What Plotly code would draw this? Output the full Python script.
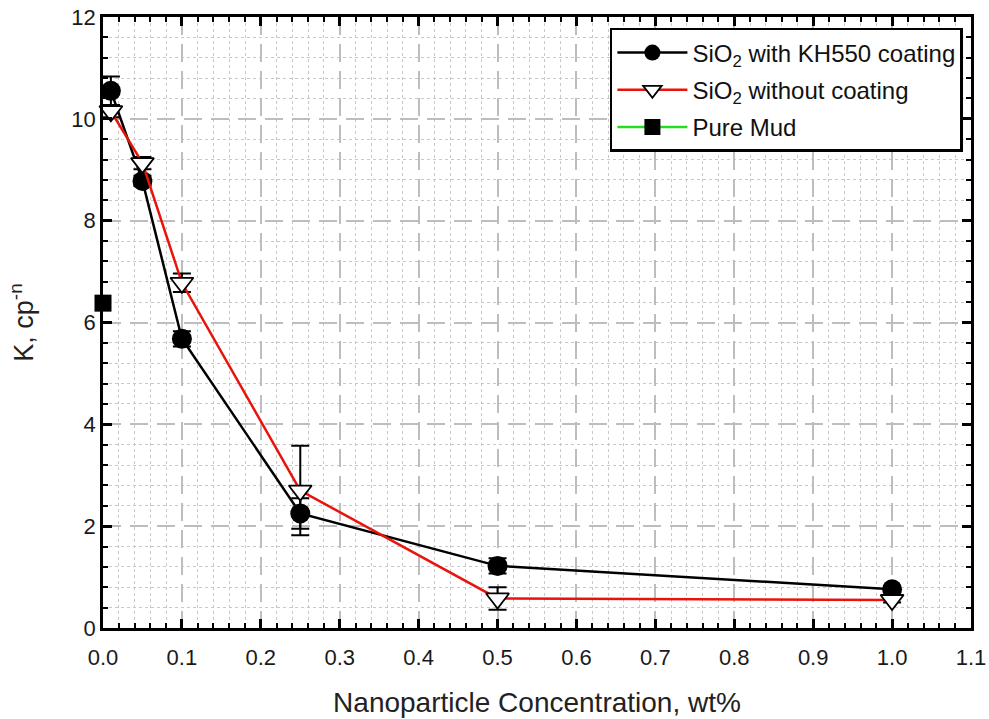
import plotly.graph_objects as go

x_conc = [0.01, 0.05, 0.1, 0.25, 0.5, 1.0]
k_coated = [10.55, 8.78, 5.68, 2.25, 1.22, 0.76]
err_coated = [0.28, 0.1, 0.15, 0.3, 0.15, 0.05]
k_uncoated = [10.15, 9.13, 6.78, 2.7, 0.58, 0.55]
err_uncoated = [0.12, 0.12, 0.18, 0.88, 0.22, 0.05]
x_pure = [0.0]
k_pure = [6.38]

FONT = "Liberation Sans, Arial, sans-serif"

fig = go.Figure()
fig.add_trace(go.Scatter(
    x=x_conc, y=k_coated, mode="lines+markers",
    name="SiO<sub>2</sub> with KH550 coating", legendgroup="a",
    line=dict(color="black", width=2.5),
    marker=dict(symbol="circle", size=20, color="black"),
    error_y=dict(type="data", array=err_coated, color="black", thickness=2, width=9),
    cliponaxis=False,
))
fig.add_trace(go.Scatter(
    x=x_conc, y=k_uncoated, mode="lines+markers",
    name="SiO<sub>2</sub> without coating", legendgroup="b",
    line=dict(color="#e8140c", width=2.5),
    marker=dict(symbol="triangle-down", size=20, color="white",
                line=dict(color="black", width=1.8)),
    error_y=dict(type="data", array=err_uncoated, color="black", thickness=2, width=9),
    cliponaxis=False,
))
fig.add_trace(go.Scatter(
    x=x_pure, y=k_pure, mode="lines+markers",
    name="Pure Mud", legendgroup="c",
    line=dict(color="#22dd22", width=2.5),
    marker=dict(symbol="square", size=17, color="black"),
    cliponaxis=False,
))

axis_common = dict(
    showline=True, linecolor="black", linewidth=2.5, mirror="ticks",
    ticks="inside", ticklen=9, tickwidth=2.5, tickcolor="black",
    showgrid=True, gridcolor="#bdbdbd", gridwidth=2, griddash="18px,9px",
    zeroline=False, automargin=False,
    tickfont=dict(family=FONT, size=22, color="#1a1a1a"),
)

minor_common = dict(ticks="inside", ticklen=5, tickwidth=1.5, tickcolor="black",
                    showgrid=True, gridcolor="#c8c8c8", griddash="dot", gridwidth=1)

fig.update_xaxes(
    range=[0, 1.1], dtick=0.1, tick0=0, tickformat=".1f",
    minor=dict(dtick=0.02, **minor_common),
    ticklabelstandoff=8,
    title=dict(text="Nanoparticle Concentration, wt%", font=dict(family=FONT, size=28, color="#222"),
               standoff=24),
    **axis_common,
)
fig.update_yaxes(
    range=[0, 12], dtick=2, tick0=0,
    minor=dict(dtick=0.4, **minor_common),
    title=dict(text="K, cp<sup>-n</sup>", font=dict(family=FONT, size=27, color="#222"),
               standoff=30),
    **axis_common,
)

fig.update_layout(
    width=989, height=719,
    margin=dict(l=103, r=18, t=17, b=91),
    paper_bgcolor="white", plot_bgcolor="white",
    showlegend=True,
    legend=dict(
        x=0.584, y=0.982, xanchor="left", yanchor="top",
        bgcolor="white", bordercolor="black", borderwidth=2.5,
        font=dict(family=FONT, size=24, color="#111"),
        traceorder="grouped", tracegroupgap=3, itemwidth=70,
    ),
)

fig.write_html("out.html")
